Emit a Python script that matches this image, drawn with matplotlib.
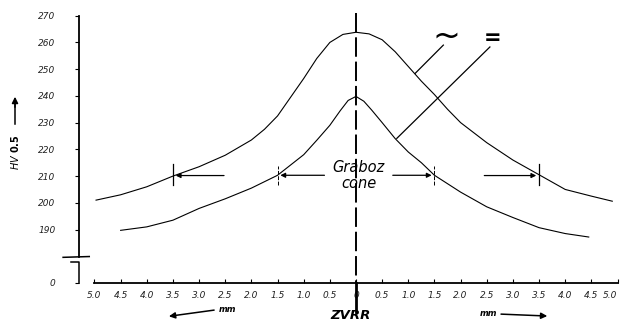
import numpy as np
import matplotlib.pyplot as plt

# hardness profile across the weld (HV 0.5)
x_soft = [-4.97, -4.5, -4.0, -3.5, -3.0, -2.5, -2.0, -1.75, -1.5, -1.25, -1.0, -0.75, -0.5, -0.25, 0.0,
          0.25, 0.5, 0.75, 1.0, 1.25, 1.5, 1.75, 2.0, 2.5, 3.0, 3.5, 4.0, 4.5, 4.9]
hv_soft = [201.0, 203.0, 206.0, 210.0, 213.5, 217.8, 223.5, 227.5, 232.5, 239.5, 246.5, 254.0, 260.0, 263.0, 263.8,
           263.2, 261.0, 256.5, 251.0, 245.5, 240.5, 235.0, 230.0, 222.5, 216.0, 210.5, 205.0, 202.5, 200.6]

x_eq = [-4.5, -4.0, -3.5, -3.0, -2.5, -2.0, -1.5, -1.0, -0.75, -0.5, -0.3, -0.15, 0.0,
        0.15, 0.3, 0.5, 0.75, 1.0, 1.25, 1.5, 2.0, 2.5, 3.0, 3.5, 4.0, 4.45]
hv_eq = [189.7, 191.0, 193.5, 197.9, 201.5, 205.5, 210.3, 218.0, 223.4, 229.0, 234.5, 238.3, 239.8,
         238.0, 234.7, 230.0, 224.0, 219.0, 215.0, 210.3, 204.0, 198.5, 194.5, 190.7, 188.5, 187.2]

xticks = np.arange(-5.0, 5.01, 0.5)
xlabels = ["%.1f" % abs(v) if abs(v) > 1e-9 else "0" for v in xticks]
yticks = [170, 190, 200, 210, 220, 230, 240, 250, 260, 270]
ylabels = ["0", "190", "200", "210", "220", "230", "240", "250", "260", "270"]

W, H = 623, 324
fig = plt.figure(figsize=(W / 100, H / 100), dpi=100)
ax = fig.add_axes([79 / W, 1 - 283 / H, (W - 79) / W, (283 - 15.7) / H])
ax.set_xlim(-5.296, 5.105)
ax.set_ylim(170, 270)
for s in ["top", "right"]:
    ax.spines[s].set_visible(False)
ax.spines["left"].set_bounds(179.7, 270)
ax.spines["bottom"].set_bounds(-5.0, 5.0)
ax.spines["left"].set_linewidth(1.3)
ax.spines["bottom"].set_linewidth(1.3)

ax.set_xticks(xticks)
ax.set_xticklabels(xlabels, fontsize=6.5, style="italic", color="#222222")
ax.get_xticklabels()[-1].set_horizontalalignment("right")
ax.tick_params(axis="x", direction="in", length=3, pad=6, width=0.8)
ax.set_yticks(yticks)
ax.set_yticklabels(ylabels, fontsize=6.5, style="italic", color="#222222")
ax.tick_params(axis="y", direction="out", length=3, pad=14, width=0.8)

# broken y axis
kw = dict(color="black", lw=1.1, clip_on=False)
ax.plot([-5.6, -5.1], [179.6, 179.9], **kw)
ax.plot([-5.45, -5.296, -5.296], [177.9, 177.9, 170], **kw)

ax.plot(x_soft, hv_soft, color="black", lw=0.8)
ax.plot(x_eq, hv_eq, color="black", lw=0.8)

# centre line
ax.plot([0, 0], [271, 170], color="black", lw=1.4, ls=(0, (10, 2.5)), clip_on=False)
ax.plot([0, 0], [170, 159], color="black", lw=2.0, clip_on=False)
ax.text(-0.1, 155.4, "ZVRR", ha="center", va="bottom", fontsize=9.5,
        style="italic", fontweight="bold", clip_on=False)

# leader lines and symbols
ax.plot([1.13, 1.67], [248.4, 259.0], color="black", lw=0.9)
ax.text(1.72, 262.3, "~", fontsize=24, ha="center", va="center")
ax.plot([0.78, 2.56], [224.1, 258.3], color="black", lw=0.9)
ax.text(2.62, 261.8, "=", fontsize=15, ha="center", va="center", fontweight="bold")

# Graboz cone markers and arrows
for xm in [-1.5, 1.5]:
    ax.plot([xm, xm], [206.5, 213.8], color="black", lw=0.7, ls=(0, (4, 1.5)))
for xm in [-3.5, 3.5]:
    ax.plot([xm, xm], [206.6, 214.7], color="black", lw=0.9)

arr = dict(arrowstyle="-|>", color="black", lw=0.9, mutation_scale=7)
ax.annotate("", xy=(-1.5, 210.3), xytext=(-0.55, 210.3), arrowprops=arr)
ax.annotate("", xy=(1.5, 210.3), xytext=(0.65, 210.3), arrowprops=arr)
ax.annotate("", xy=(-3.5, 210.2), xytext=(-2.47, 210.2), arrowprops=arr)
ax.annotate("", xy=(3.5, 210.2), xytext=(2.4, 210.2), arrowprops=arr)
ax.text(0.05, 210.4, "Graboz", ha="center", va="bottom", fontsize=10.5, style="italic")
ax.text(0.05, 210.0, "cone", ha="center", va="top", fontsize=10.5, style="italic")

# direction arrows under the axis
arr2 = dict(arrowstyle="-|>", color="black", lw=1.1, mutation_scale=9)
ax.annotate("", xy=(-3.63, 157.4), xytext=(-2.66, 160.0), arrowprops=arr2, annotation_clip=False)
ax.text(-2.63, 160.2, "mm", fontsize=6, style="italic", fontweight="bold", va="center")
ax.annotate("", xy=(3.71, 157.6), xytext=(2.72, 158.4), arrowprops=arr2, annotation_clip=False)
ax.text(2.37, 158.5, "mm", fontsize=6, style="italic", fontweight="bold", va="center")

# y axis label
fig.text(15 / W, 1 - 152 / H, "HV $\\mathbf{0.5}$", rotation=90, ha="center", va="center",
         fontsize=7, style="italic")
fig.add_artist(plt.Line2D([15 / W, 15 / W], [1 - 124 / H, 1 - 100 / H], color="black", lw=1.1))
ax.annotate("", xy=(15 / W, 1 - 94 / H), xytext=(15 / W, 1 - 110 / H), xycoords="figure fraction",
            arrowprops=dict(arrowstyle="-|>", color="black", lw=1.1, mutation_scale=9))

fig.savefig("out.png", dpi=100)
